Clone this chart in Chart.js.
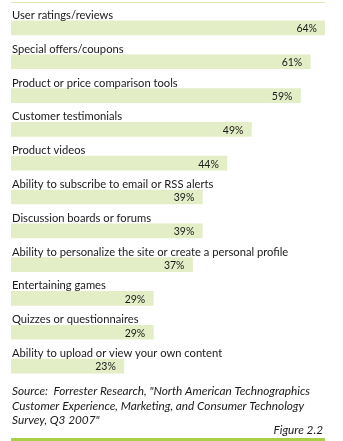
<!DOCTYPE html>
<html>
<head>
<meta charset="utf-8">
<script src="https://cdn.jsdelivr.net/npm/chart.js@4"></script>
<style>
  html, body { margin: 0; padding: 0; background: #fff; }
  #wrap { width: 343px; height: 441px; }
</style>
</head>
<body>
<div id="wrap"><canvas id="fig22" width="343" height="441"></canvas></div>
<script>
const categories = [
  'User ratings/reviews',
  'Special offers/coupons',
  'Product or price comparison tools',
  'Customer testimonials',
  'Product videos',
  'Ability to subscribe to email or RSS alerts',
  'Discussion boards or forums',
  'Ability to personalize the site or create a personal profile',
  'Entertaining games',
  'Quizzes or questionnaires',
  'Ability to upload or view your own content'
];
const percents = [64, 61, 59, 49, 44, 39, 39, 37, 29, 29, 23];
const sourceLines = [
  'Source:  Forrester Research, "North American Technographics',
  'Customer Experience, Marketing, and Consumer Technology',
  'Survey, Q3 2007"'
];
const figureLabel = 'Figure 2.2';

const textFont = 'Lato, "Open Sans", sans-serif';

// labels above each bar + value inside the bar end
const barText = {
  id: 'barText',
  afterDatasetsDraw(chart) {
    const ctx = chart.ctx;
    const meta = chart.getDatasetMeta(0);
    ctx.save();
    ctx.fillStyle = '#1a1a1a';
    meta.data.forEach((bar, i) => {
      const top = bar.y - bar.height / 2;
      ctx.font = '11.2px ' + textFont;
      ctx.textAlign = 'left';
      ctx.textBaseline = 'alphabetic';
      ctx.fillText(categories[i], bar.base + 1, top - 2);
      ctx.font = '10.5px ' + textFont;
      ctx.textAlign = 'right';
      ctx.textBaseline = 'middle';
      ctx.fillText(percents[i] + '%', bar.x - 8, bar.y + 1);
    });
    ctx.restore();
  },
  afterDraw(chart) {
    const ctx = chart.ctx;
    const area = chart.chartArea;
    ctx.save();
    // thin rule on top
    ctx.fillStyle = '#d9e8b4';
    ctx.fillRect(area.left, 2, area.right - area.left, 1);
    // source note
    ctx.fillStyle = '#1a1a1a';
    ctx.font = 'italic 11.8px ' + textFont;
    ctx.textAlign = 'left';
    ctx.textBaseline = 'alphabetic';
    sourceLines.forEach((line, i) => {
      ctx.fillText(line, area.left + 1, 395 + i * 14.5);
    });
    ctx.textAlign = 'right';
    ctx.fillText(figureLabel, area.right - 2, 434);
    // thicker rule at the bottom
    ctx.fillStyle = '#a8cf45';
    ctx.fillRect(area.left, 438, area.right - area.left, 3);
    ctx.restore();
  }
};

new Chart(document.getElementById('fig22'), {
  type: 'bar',
  data: {
    labels: categories,
    datasets: [{
      data: percents,
      backgroundColor: '#e3edc6',
      borderWidth: 0,
      barThickness: 14
    }]
  },
  options: {
    indexAxis: 'y',
    responsive: false,
    animation: false,
    devicePixelRatio: 1,
    layout: { padding: { left: 11, right: 18, top: 11, bottom: 58 } },
    scales: {
      x: { display: false, min: 0, max: 64 },
      y: { display: false }
    },
    plugins: {
      legend: { display: false },
      tooltip: { enabled: false }
    }
  },
  plugins: [barText]
});
</script>
</body>
</html>
